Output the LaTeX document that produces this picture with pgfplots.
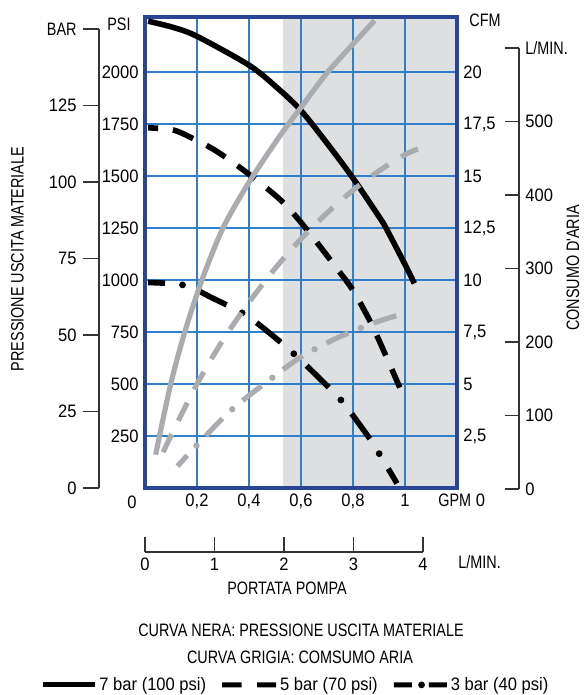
\documentclass[border=0pt]{standalone}
\usepackage{fontspec}
\setmainfont[FakeStretch=0.92]{Liberation Sans}
\newfontfamily\capsf[FakeStretch=0.8]{Liberation Sans}
\usepackage{pgfplots}
\pgfplotsset{compat=1.18}
\definecolor{frameblue}{HTML}{2B4596}
\definecolor{gridblue}{HTML}{2F7FCB}
\definecolor{shade}{HTML}{DEDFE1}
\definecolor{curvegray}{HTML}{AAACAF}
\definecolor{scaleline}{HTML}{333333}

\begin{document}
\fontsize{9}{10.8}\selectfont
\begin{tikzpicture}

% main chart: PSI (and CFM x 100) against GPM
\begin{axis}[set layers, scale only axis, width=156pt, height=235.5pt,
  at={(72.5pt,103.5pt)}, anchor=south west,
  xmin=0, xmax=1.2, ymin=0, ymax=2265,
  xtick={0.2,0.4,0.6,0.8,1}, xticklabels={{0,2},{0,4},{0,6},{0,8},1},
  ytick={250,500,750,1000,1250,1500,1750,2000},
  yticklabels={250,500,750,1000,1250,1500,1750,2000},
  major tick length=0pt, grid=major, major grid style={gridblue, line width=0.6pt},
  axis line style={frameblue, line width=2pt},
  legend columns=3,
  legend style={draw=none, fill=none, at={(0.49,-0.418)}, anchor=center,
    /tikz/every even column/.append style={column sep=6pt}},
  clip=false]

\addplot[draw=none, fill=shade, on layer=axis background, forget plot]
  coordinates {(0.532,2265) (1.2,2265)} \closedcycle;

% pressure curves (black)
\addplot[black, line width=2.8pt, smooth,
  legend image code/.code={\path[draw=none, solid, fill=black] (0pt,-1.3pt) rectangle (26pt,1.3pt);}]
  coordinates {(0.012,2245) (0.108,2215) (0.2,2172) (0.404,2030) (0.517,1915) (0.6,1815)
    (0.7,1658) (0.8,1490) (0.9,1305) (0.927,1250) (1.0,1075) (1.036,984)};
\addlegendentry{7 bar (100 psi)}

\addplot[black, line width=2.8pt, smooth, dash pattern=on 11pt off 7.5pt, dash phase=6pt,
  legend image code/.code={\path[draw=none, solid, fill=black] (0pt,-1.3pt) rectangle (9.75pt,1.3pt)
    (17.5pt,-1.3pt) rectangle (27pt,1.3pt);}]
  coordinates {(0.012,1732) (0.108,1722) (0.185,1680) (0.277,1618) (0.404,1505) (0.517,1390)
    (0.586,1298) (0.663,1178) (0.74,1052) (0.8,950) (0.877,773) (0.98,483)};
\addlegendentry{5 bar (70 psi)}

\addplot[black, line width=2.8pt, smooth, dash pattern=on 15.5pt off 17.5pt, dash phase=7pt,
  legend image code/.code={\path[draw=none, solid, fill=black] (0pt,-1.3pt) rectangle (9pt,1.3pt)
    (17.5pt,-1.3pt) rectangle (26.5pt,1.3pt) (13.9pt,0pt) circle[radius=1.7pt];}]
  coordinates {(0.012,988) (0.152,975) (0.262,912) (0.385,834) (0.489,735) (0.586,630)
    (0.712,477) (0.762,412) (0.865,236) (0.896,175) (0.954,54) (0.969,22)};
\addlegendentry{3 bar (40 psi)}
\addplot[black, line width=3.4pt, smooth, line cap=round, dash pattern=on 0pt off 33pt,
  dash phase=15.75pt, forget plot]
  coordinates {(0.012,988) (0.152,975) (0.262,912) (0.385,834) (0.489,735) (0.586,630)
    (0.712,477) (0.762,412) (0.865,236) (0.896,175) (0.954,54) (0.969,22)};

% air consumption curves (grey), CFM x 100
\addplot[curvegray, line width=2.6pt, smooth, forget plot]
  coordinates {(0.041,160) (0.098,495) (0.153,750) (0.219,1000) (0.3,1250) (0.4,1470)
    (0.517,1690) (0.6,1830) (0.696,1990) (0.8,2135) (0.883,2248)};
\addplot[curvegray, line width=2.6pt, smooth, dash pattern=on 10pt off 7.5pt, forget plot]
  coordinates {(0.07,172) (0.1,252) (0.2,500) (0.3,712) (0.4,893) (0.5,1055) (0.6,1198)
    (0.7,1322) (0.8,1432) (0.9,1525) (1.0,1603) (1.05,1630)};
\addplot[curvegray, line width=2.6pt, smooth, dash pattern=on 12pt off 13.5pt, dash phase=4.75pt, forget plot]
  coordinates {(0.125,105) (0.2,207) (0.334,377) (0.484,525) (0.6,630) (0.738,721)
    (0.892,799) (1.008,843)};
\addplot[curvegray, line width=3.2pt, smooth, line cap=round, dash pattern=on 0pt off 25.5pt,
  dash phase=11.5pt, forget plot]
  coordinates {(0.125,105) (0.2,207) (0.334,377) (0.484,525) (0.6,630) (0.738,721)
    (0.892,799) (1.008,843)};
\end{axis}

% CFM scale on the right of the frame
\begin{axis}[scale only axis, width=156pt, height=235.5pt,
  at={(72.5pt,103.5pt)}, anchor=south west,
  xmin=0, xmax=1.2, ymin=0, ymax=22.65, hide x axis, axis y line*=right,
  axis line style={draw=none}, major tick length=0pt,
  ytick={2.5,5,7.5,10,12.5,15,17.5,20},
  yticklabels={{2,5},5,{7,5},10,{12,5},15,{17,5},20}]
\addplot[draw=none, forget plot] coordinates {(0,0) (1.2,22.65)};
\end{axis}

% BAR scale
\begin{axis}[scale only axis, width=1pt, height=229.5pt,
  at={(49.5pt,103.5pt)}, anchor=south west,
  xmin=0, xmax=1, ymin=0, ymax=150, hide x axis, axis y line=left,
  axis line style={-, scaleline, line width=0.75pt},
  tick style={scaleline, line width=0.75pt}, tick align=outside, major tick length=8pt,
  ytick={0,25,50,75,100,125,150}, yticklabels={0,25,50,75,100,125,{\capsf BAR}}]
\addplot[draw=none, forget plot] coordinates {(0,0) (1,150)};
\end{axis}

% L/MIN air scale
\begin{axis}[scale only axis, width=1pt, height=220.5pt,
  at={(258.5pt,103pt)}, anchor=south west,
  xmin=0, xmax=1, ymin=0, ymax=600, hide x axis, axis y line=right,
  axis line style={-, scaleline, line width=0.75pt},
  tick style={scaleline, line width=0.75pt}, tick align=inside, major tick length=7pt,
  ytick={0,100,200,300,400,500,600}, yticklabels={0,100,200,300,400,500,{\capsf L/MIN.}}]
\addplot[draw=none, forget plot] coordinates {(0,0) (1,600)};
\end{axis}

% L/MIN pump flow scale
\begin{axis}[scale only axis, width=139pt, height=1pt,
  at={(72.5pt,71.5pt)}, anchor=south west,
  xmin=0, xmax=4, ymin=0, ymax=1, hide y axis, axis x line=bottom,
  axis line style={-, scaleline, line width=0.75pt},
  tick style={scaleline, line width=0.75pt}, tick align=inside, major tick length=7.5pt,
  xtick={0,1,2,3,4}, xticklabels={0,1,2,3,4}]
\addplot[draw=none, forget plot] coordinates {(0,0) (4,1)};
\end{axis}

\node at (66pt,96.5pt) {0};
\node[anchor=east] at (68.5pt,335.5pt) {\capsf PSI};
\node[anchor=west] at (231.5pt,337.5pt) {\capsf CFM};
\node[anchor=west] at (216pt,97.5pt) {{\capsf GPM} 0};
\node[anchor=west] at (226pt,66.5pt) {\capsf L/MIN.};
\node at (143.5pt,53.5pt) {\capsf PORTATA POMPA};
\node[rotate=90] at (8.75pt,218pt) {\capsf PRESSIONE USCITA MATERIALE};
\node[rotate=90] at (286.5pt,213.5pt) {\capsf CONSUMO D'ARIA};
\node at (150.5pt,32.5pt) {\capsf CURVA NERA: PRESSIONE USCITA MATERIALE};
\node at (150pt,19pt) {\capsf CURVA GRIGIA: COMSUMO ARIA};

\pgfresetboundingbox
\useasboundingbox (0,0) rectangle (291.5pt,347.5pt);
\end{tikzpicture}
\end{document}
